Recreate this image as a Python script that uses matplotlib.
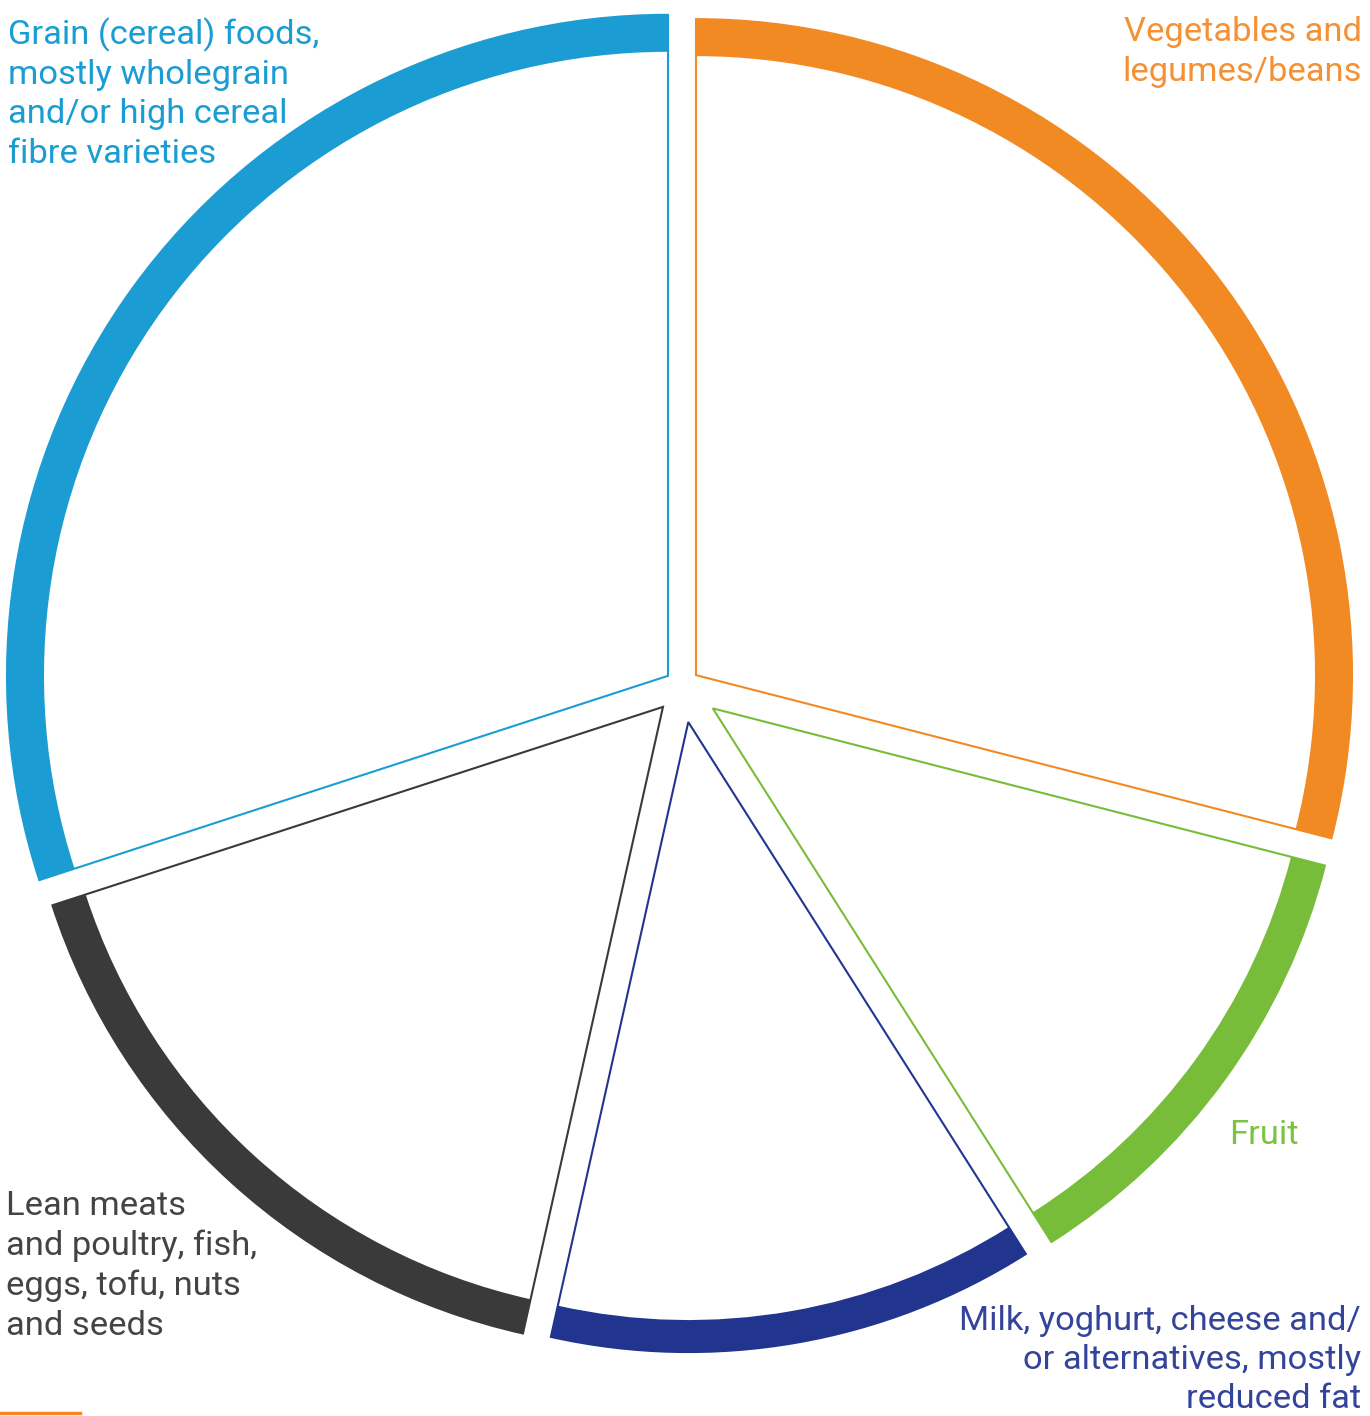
import numpy as np
import matplotlib.pyplot as plt
from matplotlib.lines import Line2D

# food groups, clockwise from the top
groups = ['Vegetables and\nlegumes/beans',
          'Fruit',
          'Milk, yoghurt, cheese and/\nor alternatives, mostly\nreduced fat',
          'Lean meats\nand poultry, fish,\neggs, tofu, nuts\nand seeds',
          'Grain (cereal) foods,\nmostly wholegrain\nand/or high cereal\nfibre varieties']
shares = [29, 12, 12.5, 16.5, 30]
band_colors = ['#F28A24', '#77BD3A', '#22358E', '#3A3A3A', '#1B9DD4']
text_colors = ['#F39134', '#7DC243', '#34449A', '#444444', '#1A9DD2']

W, H = 1370, 1416
CX, CY = 682, 686      # pie centre in pixels (from top-left)
R = 660                 # base radius in pixels
GAP = 14                # half gap between slices, pixels
# the small slices are drawn a little shorter in the original
radii_px = [656, 632, 630, 642, 661]
band_px = [37, 35, 32, 35, 37]

fig = plt.figure(figsize=(W / 100, H / 100), dpi=100)
ax = fig.add_axes([0, 0, 1, 1])

angles = np.array(shares) / sum(shares) * 2 * np.pi
explode = [GAP / R / np.sin(a / 2) for a in angles]

# slice outlines (thin radial edges)
wedges, _ = ax.pie(shares, colors=['white'] * 5, explode=explode, startangle=90,
                   counterclock=False, radius=1, frame=True,
                   wedgeprops=dict(linewidth=1.5))
for w, c, r in zip(wedges, band_colors, radii_px):
    w.set_edgecolor(c)
    w.set_radius(r / R)

# thick outer band
bands, _ = ax.pie(shares, colors=band_colors, explode=explode, startangle=90,
                  counterclock=False, radius=1, frame=True,
                  wedgeprops=dict(width=0.05, linewidth=0))
for b, r, bw in zip(bands, radii_px, band_px):
    b.set_radius(r / R)
    b.set_width(bw / R)

ax.set_xlim(-CX / R, (W - CX) / R)
ax.set_ylim(-(H - CY) / R, CY / R)
ax.set_axis_off()

font = dict(family=['Roboto', 'DejaVu Sans'], fontweight='normal',
            fontsize=24.8, linespacing=1.3)

def ftext(x, y, s, color, ha, ls=1.3):
    fig.text(x / W, 1 - y / H, s, color=color, ha=ha, va='top',
             **{**font, 'linespacing': ls})

ftext(1362, 16, groups[0], text_colors[0], 'right')
ftext(1229, 1119, groups[1], text_colors[1], 'left')
ftext(1361, 1305, groups[2], text_colors[2], 'right', ls=1.27)
ftext(6, 1190, groups[3], text_colors[3], 'left')
ftext(8, 17, groups[4], text_colors[4], 'left')

# stray orange mark at the bottom-left edge
fig.add_artist(Line2D([0, 80 / W], [1 - 1413 / H, 1 - 1413 / H],
                      color='#F28A24', linewidth=2.5, transform=fig.transFigure))

fig.savefig('out.png', dpi=100, facecolor='white')
